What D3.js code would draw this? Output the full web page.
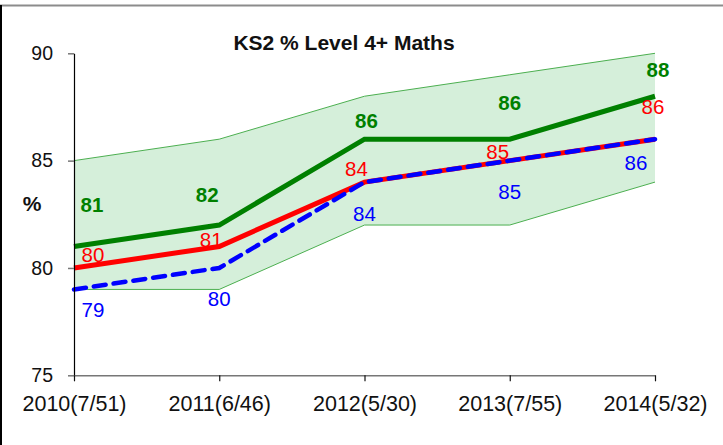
<!DOCTYPE html>
<html>
<head>
<meta charset="utf-8">
<script src="https://cdn.jsdelivr.net/npm/d3@7"></script>
<style>
    body { margin: 0; background: #fff; }
    svg { display: block; font-family: Arial, "Liberation Sans", sans-serif; }
</style>
</head>
<body>
<svg></svg>
<script>
const YEARS = ['2010(7/51)', '2011(6/46)', '2012(5/30)', '2013(7/55)', '2014(5/32)'];

const BAND_UPPER = [85, 86, 88, 89, 90];
const BAND_LOWER = [79, 79, 82, 82, 84];

const SCHOOL = [81, 82, 86, 86, 88];
const LA = [80, 81, 84, 85, 86];
const NATIONAL = [79, 80, 84, 85, 86];

const Y_TICKS = [75, 80, 85, 90];

// label nudges (px) from each point, as placed in the original
const NUDGE_SCHOOL = [[18, -42], [-12, -30], [2, -19], [0, -37], [3, -27]];
const NUDGE_LA = [[19, -13], [-8, -7], [-8, -13], [-12, -9], [-2, -33]];
const NUDGE_NATIONAL = [[19, 20], [0, 31], [0, 32], [0, 31], [-19, 23]];

const WIDTH = 723;
const HEIGHT = 445;
const PLOT = { left: 74, right: 655, top: 53.3, bottom: 375.3 };

const svg = d3.select('svg')
    .attr('width', WIDTH)
    .attr('height', HEIGHT);

// frame
svg.append('line')
    .attr('x1', 0).attr('x2', WIDTH)
    .attr('y1', 5.5).attr('y2', 5.5)
    .attr('stroke', '#8c8c8c').attr('stroke-width', 2);
svg.append('line')
    .attr('x1', 1).attr('x2', 1)
    .attr('y1', 5).attr('y2', HEIGHT)
    .attr('stroke', '#000').attr('stroke-width', 2);

const xScale = d3.scalePoint()
    .domain(YEARS)
    .range([PLOT.left, PLOT.right]);

const yScale = d3.scaleLinear()
    .domain([75, 90])
    .range([PLOT.bottom, PLOT.top]);

const chart = svg.append('g');

const area = d3.area()
    .x((d, i) => xScale(YEARS[i]))
    .y0((d, i) => yScale(BAND_LOWER[i]))
    .y1(d => yScale(d));

chart.append('path')
    .datum(BAND_UPPER)
    .attr('d', area)
    .attr('fill', '#d5efda');

const line = d3.line()
    .x((d, i) => xScale(YEARS[i]))
    .y(d => yScale(d));

[BAND_UPPER, BAND_LOWER].forEach(series => {
    chart.append('path')
        .datum(series)
        .attr('d', line)
        .attr('fill', 'none')
        .attr('stroke', '#4caf50')
        .attr('stroke-width', 1);
});

chart.append('path')
    .datum(SCHOOL)
    .attr('d', line)
    .attr('fill', 'none')
    .attr('stroke', '#008000')
    .attr('stroke-width', 5);

chart.append('path')
    .datum(LA)
    .attr('d', line)
    .attr('fill', 'none')
    .attr('stroke', '#ff0000')
    .attr('stroke-width', 5);

chart.append('path')
    .datum(NATIONAL)
    .attr('d', line)
    .attr('fill', 'none')
    .attr('stroke', '#0000ff')
    .attr('stroke-width', 4.5)
    .attr('stroke-dasharray', '12,8')
    .attr('stroke-linecap', 'round');

// axes
const yAxis = chart.append('g')
    .attr('transform', `translate(${PLOT.left},0)`)
    .call(d3.axisLeft(yScale).tickValues(Y_TICKS).tickSize(6).tickSizeOuter(0).tickPadding(15));
yAxis.select('.domain').attr('stroke', '#000').attr('stroke-width', 1.2);
yAxis.selectAll('.tick line').attr('stroke', '#777').attr('stroke-width', 1.5);
yAxis.selectAll('.tick text')
    .attr('font-size', 19.5)
    .attr('font-family', 'Arial, "Liberation Sans", sans-serif')
    .attr('fill', '#111');

const xAxis = chart.append('g')
    .attr('transform', `translate(0,${PLOT.bottom})`)
    .call(d3.axisBottom(xScale).tickSize(6).tickSizeOuter(0).tickPadding(14));
xAxis.select('.domain').attr('stroke', '#777').attr('stroke-width', 1.5);
xAxis.selectAll('.tick line').attr('stroke', '#111').attr('stroke-width', 1.2);
xAxis.selectAll('.tick text')
    .attr('font-size', 21.5)
    .attr('font-family', 'Arial, "Liberation Sans", sans-serif')
    .attr('fill', '#111');

// data labels
function addLabels(series, nudges, color, weight) {
    chart.selectAll(null)
        .data(series)
        .enter()
        .append('text')
        .text(d => d)
        .attr('x', (d, i) => xScale(YEARS[i]) + nudges[i][0])
        .attr('y', (d, i) => yScale(d) + nudges[i][1])
        .attr('dy', '0.36em')
        .attr('text-anchor', 'middle')
        .attr('font-size', 20.5)
        .attr('font-weight', weight)
        .attr('fill', color);
}

addLabels(SCHOOL, NUDGE_SCHOOL, '#008000', 'bold');
addLabels(LA, NUDGE_LA, '#ff0000', 'normal');
addLabels(NATIONAL, NUDGE_NATIONAL, '#0000ff', 'normal');

// titles
svg.append('text')
    .text('KS2 % Level 4+ Maths')
    .attr('x', 344)
    .attr('y', 50)
    .attr('text-anchor', 'middle')
    .attr('font-size', 21)
    .attr('font-weight', 'bold')
    .attr('fill', '#111');

svg.append('text')
    .text('%')
    .attr('x', 32)
    .attr('y', 203)
    .attr('dy', '0.36em')
    .attr('text-anchor', 'middle')
    .attr('font-size', 21)
    .attr('font-weight', 'bold')
    .attr('fill', '#111');
</script>
</body>
</html>
